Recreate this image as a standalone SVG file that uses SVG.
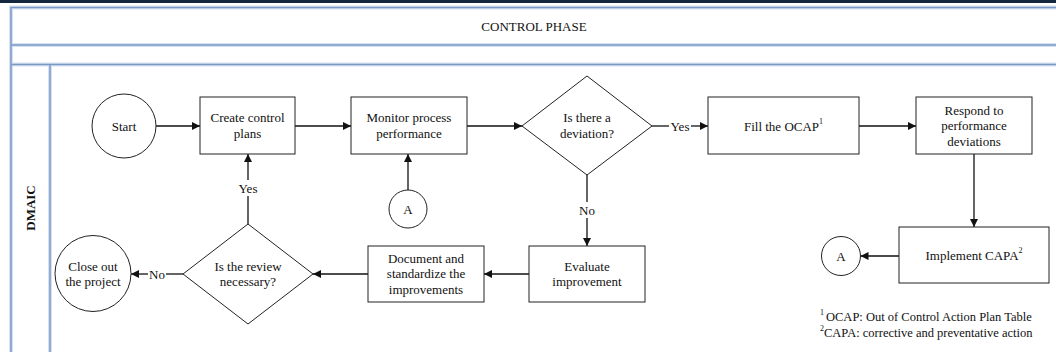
<svg xmlns="http://www.w3.org/2000/svg" width="1056" height="352" viewBox="0 0 1056 352">
<style>
  text { font-family: "Liberation Serif", "Times New Roman", serif; font-size: 13px; fill: #111; text-anchor: middle; dominant-baseline: central; }
  .frame { fill: none; stroke: #7b98c4; stroke-width: 1.5; }
  .glow { fill: none; stroke: #d6e2f2; stroke-width: 4; }
  .node { fill: #fff; stroke: #222; stroke-width: 1; }
  .conn { fill: none; stroke: #111; stroke-width: 1.3; }
  .lbl { font-size: 13px; }
  .foot { font-size: 12.5px; text-anchor: start; }
  .sup { font-size: 8px; }
</style>
<defs>
  <marker id="arr" viewBox="0 0 10 10" refX="10" refY="5" markerWidth="9" markerHeight="8" markerUnits="userSpaceOnUse" orient="auto">
    <path d="M0,0 L10,5 L0,10 z" fill="#111"/>
  </marker>
</defs>
<rect x="0" y="0" width="1056" height="352" fill="#fff"/>
<rect x="0" y="0" width="1056" height="3" fill="#14263e"/>
<g id="frame">
  <g class="glow">
    <rect x="11" y="7.5" width="1050" height="350"/>
    <line x1="11" y1="45" x2="1056" y2="45"/>
    <line x1="11" y1="64.5" x2="1056" y2="64.5"/>
    <line x1="50" y1="64.5" x2="50" y2="352"/>
  </g>
  <g class="frame">
    <rect x="11" y="7.5" width="1050" height="350"/>
    <line x1="11" y1="45" x2="1056" y2="45"/>
    <line x1="11" y1="64.5" x2="1056" y2="64.5"/>
    <line x1="50" y1="64.5" x2="50" y2="352"/>
  </g>
  <text x="534" y="26.5">CONTROL PHASE</text>
  <text x="30" y="208" font-weight="bold" transform="rotate(-90 30 208)">DMAIC</text>
</g>

<g id="connectors">
  <line class="conn" x1="156" y1="126" x2="200" y2="126" marker-end="url(#arr)"/>
  <line class="conn" x1="295" y1="126" x2="351" y2="126" marker-end="url(#arr)"/>
  <line class="conn" x1="467" y1="126" x2="522" y2="126" marker-end="url(#arr)"/>
  <line class="conn" x1="652" y1="126" x2="669" y2="126"/>
  <line class="conn" x1="691" y1="126" x2="708" y2="126" marker-end="url(#arr)"/>
  <text class="lbl" x="680" y="126">Yes</text>
  <line class="conn" x1="859" y1="126" x2="916" y2="126" marker-end="url(#arr)"/>
  <line class="conn" x1="974" y1="154" x2="974" y2="227" marker-end="url(#arr)"/>
  <line class="conn" x1="899" y1="256" x2="860.5" y2="256" marker-end="url(#arr)"/>
  <line class="conn" x1="408" y1="190" x2="408" y2="154" marker-end="url(#arr)"/>
  <line class="conn" x1="587" y1="175" x2="587" y2="202"/>
  <line class="conn" x1="587" y1="218" x2="587" y2="246" marker-end="url(#arr)"/>
  <text class="lbl" x="587" y="210">No</text>
  <line class="conn" x1="529" y1="274" x2="484" y2="274" marker-end="url(#arr)"/>
  <line class="conn" x1="368" y1="274" x2="313" y2="274" marker-end="url(#arr)"/>
  <line class="conn" x1="248" y1="224" x2="248" y2="196"/>
  <line class="conn" x1="248" y1="180" x2="248" y2="154" marker-end="url(#arr)"/>
  <text class="lbl" x="248" y="188">Yes</text>
  <line class="conn" x1="183" y1="274" x2="166" y2="274"/>
  <line class="conn" x1="148" y1="274" x2="131" y2="274" marker-end="url(#arr)"/>
  <text class="lbl" x="157" y="274">No</text>
</g>

<g id="start">
  <circle class="node" cx="124" cy="126" r="32"/>
  <text x="124" y="126">Start</text>
</g>
<g id="create">
  <rect class="node" x="200" y="97" width="95" height="57"/>
  <text x="247.5" y="117.5">Create control</text>
  <text x="247.5" y="133">plans</text>
</g>
<g id="monitor">
  <rect class="node" x="351" y="97" width="116" height="57"/>
  <text x="409" y="117.5">Monitor process</text>
  <text x="409" y="133">performance</text>
</g>
<g id="deviation">
  <polygon class="node" points="587,76 652,126 587,175 522,126"/>
  <text x="587" y="117.5">Is there a</text>
  <text x="587" y="133">deviation?</text>
</g>
<g id="fill">
  <rect class="node" x="708" y="97" width="151" height="57"/>
  <text x="783.5" y="126">Fill the OCAP<tspan class="sup" dy="-5">1</tspan></text>
</g>
<g id="respond">
  <rect class="node" x="916" y="97" width="116" height="57"/>
  <text x="974" y="110">Respond to</text>
  <text x="974" y="125.5">performance</text>
  <text x="974" y="141">deviations</text>
</g>
<g id="implement">
  <rect class="node" x="899" y="227" width="150" height="56"/>
  <text x="974" y="255">Implement CAPA<tspan class="sup" dy="-5">2</tspan></text>
</g>
<g id="connectorA2">
  <circle class="node" cx="841" cy="256" r="19.5"/>
  <text x="841" y="256" font-size="12">A</text>
</g>
<g id="connectorA1">
  <circle class="node" cx="408" cy="209" r="19"/>
  <text x="408" y="209" font-size="12">A</text>
</g>
<g id="evaluate">
  <rect class="node" x="529" y="246" width="116" height="56"/>
  <text x="587" y="266">Evaluate</text>
  <text x="587" y="281.5">improvement</text>
</g>
<g id="document">
  <rect class="node" x="368" y="246" width="116" height="56"/>
  <text x="426" y="258">Document and</text>
  <text x="426" y="273.5">standardize the</text>
  <text x="426" y="289">improvements</text>
</g>
<g id="review">
  <polygon class="node" points="248,224 313,274 248,324 183,274"/>
  <text x="248" y="266">Is the review</text>
  <text x="248" y="281.5">necessary?</text>
</g>
<g id="close">
  <circle class="node" cx="93" cy="273.5" r="38"/>
  <text x="93" y="266">Close out</text>
  <text x="93" y="281.5">the project</text>
</g>
<g id="footnotes">
  <text class="foot" x="820" y="317"><tspan class="sup" dy="-5">1</tspan><tspan dx="2" dy="5">OCAP: Out of Control Action Plan Table</tspan></text>
  <text class="foot" x="820" y="333"><tspan class="sup" dy="-5">2</tspan><tspan dy="5">CAPA: corrective and preventative action</tspan></text>
</g>
</svg>
